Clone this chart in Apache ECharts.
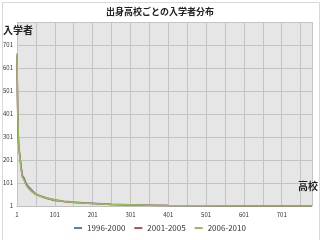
<!DOCTYPE html>
<html>
	<head>
		<meta charset="utf-8">
		<title></title>
		<script src="https://cdn.jsdelivr.net/npm/echarts@6/dist/echarts.min.js"></script>
		<style>
			html,body{margin:0;padding:0;background:#fff;}
			.chart{width:320px;height:240px;}
		</style>
	</head>
	<body>
		<div class="chart"></div>
		<script>
			// 高校の順位（x）
			var ranks = [1,2,3,4,5,7,9,12,15,20,25,30,40,50,60,70,80,100,125,150,175,200,250,300,350,400,500,600,700,781];
			var s1996 = [660,520,400,330,280,235,210,170,135,122,100,88,70,55,47,41,36,28,22,18,15,13,9,6,4,3,2,1,1,1];
			var s2001 = [650,500,390,320,270,245,215,165,130,115,95,82,64,52,45,39,33,25,20,16,14,12,8,5,4,3,2,1,1,1];
			var s2006 = [665,530,410,340,290,238,205,160,128,112,93,80,65,53,46,40,35,27,21,17,14,12,8,6,4,3,2,1,1,1];
			var names = ['1996-2000','2001-2005','2006-2010'];
			var colors = ['#4f81bd','#c0504d','#9bbb59'];

			function pairs(arr){
				var out = [];
				for (var i = 0; i < arr.length; i++) {
					out.push([ranks[i], arr[i]]);
				}
				return out;
			}

			var chart = echarts.init(document.querySelector(".chart"));
			var font = '"Noto Sans CJK JP", sans-serif';
			chart.setOption({
				animation:false,
				textStyle:{fontFamily:font},
				title:{
					text:'出身高校ごとの入学者分布',
					left:'center',
					top:2,
					textStyle:{fontSize:9,fontWeight:'bold',color:'#222'}
				},
				graphic:[
					{type:'rect',left:0,top:0,shape:{width:317,height:238},style:{fill:'none',stroke:'#d9d9d9',lineWidth:1}},
					{type:'text',left:3,top:25,z:10,style:{text:'入学者',font:'bold 10px '+font,fill:'#222'}},
					{type:'text',left:298,top:181,z:10,style:{text:'高校',font:'bold 10px '+font,fill:'#222'}}
				],
				legend:{
					bottom:3,
					left:'center',
					itemWidth:8,
					itemHeight:2,
					itemGap:9,
					icon:'rect',
					textStyle:{fontSize:8,color:'#333'},
					data:names
				},
				grid:{left:17,right:8,top:22,bottom:34,show:true,backgroundColor:'#e6e6e6',borderWidth:0},
				xAxis:{
					type:'value',
					min:1,
					max:781,
					interval:50,
					axisLine:{show:true,lineStyle:{color:'#bfbfbf'}},
					axisTick:{show:false},
					splitLine:{show:true,lineStyle:{color:'#c4c4c4',width:1}},
					axisLabel:{
						fontSize:6,
						color:'#333',
						margin:6,
						showMaxLabel:false,
						formatter:function(v){ return (v-1)%100===0 ? String(v) : ''; }
					}
				},
				yAxis:{
					type:'value',
					min:1,
					max:801,
					interval:100,
					axisLine:{show:false},
					axisTick:{show:false},
					splitLine:{show:true,lineStyle:{color:'#c4c4c4',width:1}},
					axisLabel:{fontSize:6,color:'#333',margin:4,showMaxLabel:false}
				},
				series:[
					{name:names[0],type:'line',data:pairs(s1996),showSymbol:false,lineStyle:{width:1.5,color:colors[0]},itemStyle:{color:colors[0]}},
					{name:names[1],type:'line',data:pairs(s2001),showSymbol:false,lineStyle:{width:1.5,color:colors[1]},itemStyle:{color:colors[1]}},
					{name:names[2],type:'line',data:pairs(s2006),showSymbol:false,lineStyle:{width:1.5,color:colors[2]},itemStyle:{color:colors[2]}}
				]
			});
		</script>
	</body>
</html>
